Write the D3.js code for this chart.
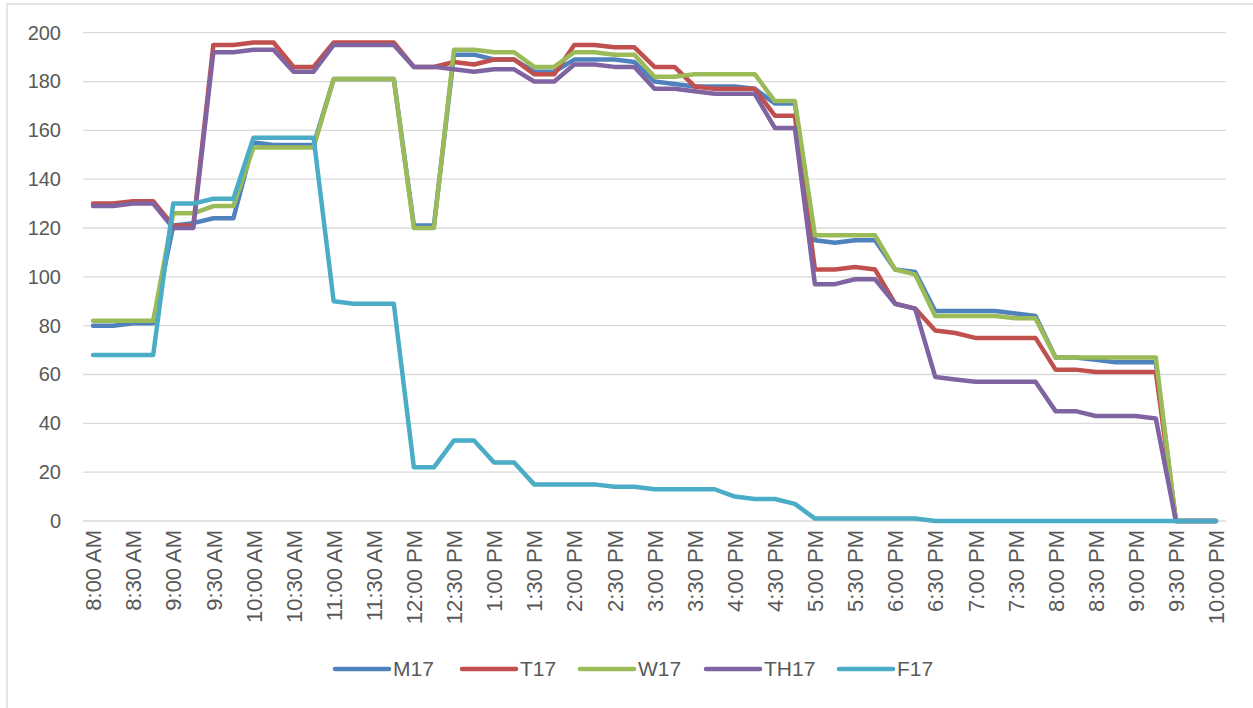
<!DOCTYPE html>
<html>
<head>
<meta charset="utf-8">
<script src="https://cdn.jsdelivr.net/npm/d3@7"></script>
<style>
  html, body { margin: 0; padding: 0; background: #fff; }
  svg { display: block; }
  text { font-family: "Liberation Sans", Arial, sans-serif; fill: #595959; }
</style>
</head>
<body>
<svg id="chart" width="1253" height="708"></svg>
<script>
const categories = [
  "8:00 AM","8:15 AM","8:30 AM","8:45 AM","9:00 AM","9:15 AM","9:30 AM","9:45 AM",
  "10:00 AM","10:15 AM","10:30 AM","10:45 AM","11:00 AM","11:15 AM","11:30 AM","11:45 AM",
  "12:00 PM","12:15 PM","12:30 PM","12:45 PM","1:00 PM","1:15 PM","1:30 PM","1:45 PM",
  "2:00 PM","2:15 PM","2:30 PM","2:45 PM","3:00 PM","3:15 PM","3:30 PM","3:45 PM",
  "4:00 PM","4:15 PM","4:30 PM","4:45 PM","5:00 PM","5:15 PM","5:30 PM","5:45 PM",
  "6:00 PM","6:15 PM","6:30 PM","6:45 PM","7:00 PM","7:15 PM","7:30 PM","7:45 PM",
  "8:00 PM","8:15 PM","8:30 PM","8:45 PM","9:00 PM","9:15 PM","9:30 PM","9:45 PM",
  "10:00 PM"
];
const tickLabels = [
  "8:00 AM","8:30 AM","9:00 AM","9:30 AM","10:00 AM","10:30 AM","11:00 AM","11:30 AM",
  "12:00 PM","12:30 PM","1:00 PM","1:30 PM","2:00 PM","2:30 PM","3:00 PM","3:30 PM",
  "4:00 PM","4:30 PM","5:00 PM","5:30 PM","6:00 PM","6:30 PM","7:00 PM","7:30 PM",
  "8:00 PM","8:30 PM","9:00 PM","9:30 PM","10:00 PM"
];
const yTicks = [0, 20, 40, 60, 80, 100, 120, 140, 160, 180, 200];
const seriesNames = ["M17", "T17", "W17", "TH17", "F17"];
const seriesColors = ["#4F81BD", "#C0504D", "#9BBB59", "#8064A2", "#4BACC6"];

const M17 = [80,80,81,81,121,122,124,124,155,154,154,154,181,181,181,181,
  121,121,191,191,189,189,184,184,189,189,189,188,180,179,178,178,
  178,177,171,171,115,114,115,115,103,102,86,86,86,86,85,84,
  67,67,66,65,65,65,0,0,0];
const T17 = [130,130,131,131,121,121,195,195,196,196,186,186,196,196,196,196,
  186,186,188,187,189,189,183,183,195,195,194,194,186,186,178,177,
  177,177,166,166,103,103,104,103,89,87,78,77,75,75,75,75,
  62,62,61,61,61,61,0,0,0];
const W17 = [82,82,82,82,126,126,129,129,153,153,153,153,181,181,181,181,
  120,120,193,193,192,192,186,186,192,192,191,191,182,182,183,183,
  183,183,172,172,117,117,117,117,103,101,84,84,84,84,83,83,
  67,67,67,67,67,67,0,0,0];
const TH17 = [129,129,130,130,120,120,192,192,193,193,184,184,195,195,195,195,
  186,186,185,184,185,185,180,180,187,187,186,186,177,177,176,175,
  175,175,161,161,97,97,99,99,89,87,59,58,57,57,57,57,
  45,45,43,43,43,42,0,0,0];
const F17 = [68,68,68,68,130,130,132,132,157,157,157,157,90,89,89,89,
  22,22,33,33,24,24,15,15,15,15,14,14,13,13,13,13,
  10,9,9,7,1,1,1,1,1,1,0,0,0,0,0,0,
  0,0,0,0,0,0,0,0,0];

const seriesValues = [M17, T17, W17, TH17, F17];

const svg = d3.select("#chart");

// chart border
svg.append("rect")
  .attr("x", 7).attr("y", 4)
  .attr("width", 1270).attr("height", 720)
  .attr("fill", "#fff")
  .attr("stroke", "#d9d9d9").attr("stroke-width", 1.3);

const plot = { left: 83, right: 1226, top: 32.7, bottom: 521 };

const x = d3.scalePoint()
  .domain(categories)
  .range([plot.left, plot.right])
  .padding(0.5);

const y = d3.scaleLinear()
  .domain([0, 200])
  .range([plot.bottom, plot.top]);

// gridlines
svg.append("g")
  .selectAll("line")
  .data(yTicks)
  .join("line")
  .attr("x1", plot.left).attr("x2", plot.right)
  .attr("y1", d => y(d)).attr("y2", d => y(d))
  .attr("stroke", "#d9d9d9").attr("stroke-width", 1.3);

// y axis labels
const yAxis = d3.axisLeft(y).tickValues(yTicks).tickSize(0).tickPadding(0);
const yg = svg.append("g").attr("transform", `translate(61,0)`).call(yAxis);
yg.select(".domain").remove();
yg.selectAll("text")
  .attr("font-size", 20)
  .attr("font-family", "Liberation Sans, Arial, sans-serif")
  .attr("fill", "#595959");

// x axis labels
const xAxis = d3.axisBottom(x)
  .tickValues(tickLabels)
  .tickSize(0)
  .tickPadding(0);
const xg = svg.append("g").attr("transform", `translate(0,${plot.bottom})`).call(xAxis);
xg.select(".domain").remove();
xg.selectAll("text")
  .attr("font-size", 22)
  .attr("font-family", "Liberation Sans, Arial, sans-serif")
  .attr("fill", "#595959")
  .attr("text-anchor", "end")
  .attr("transform", "translate(0,9) rotate(-90)")
  .attr("x", 0)
  .attr("y", 0)
  .attr("dy", "0.35em");

// lines
const line = d3.line()
  .x((d, i) => x(categories[i]))
  .y(d => y(d));

svg.append("g")
  .selectAll("path")
  .data(seriesValues)
  .join("path")
  .attr("d", d => line(d))
  .attr("fill", "none")
  .attr("stroke", (d, i) => seriesColors[i])
  .attr("stroke-width", 4.5)
  .attr("stroke-linejoin", "round")
  .attr("stroke-linecap", "round");

// legend
const legendX = [335, 462, 580, 706, 839];
const legend = svg.append("g")
  .selectAll("g")
  .data(seriesNames)
  .join("g")
  .attr("transform", (d, i) => `translate(${legendX[i]},669)`);
legend.append("line")
  .attr("x1", 0).attr("x2", 54)
  .attr("y1", 0).attr("y2", 0)
  .attr("stroke", (d, i) => seriesColors[i])
  .attr("stroke-width", 4.5)
  .attr("stroke-linecap", "round");
legend.append("text")
  .attr("x", 58).attr("y", 0).attr("dy", "0.35em")
  .attr("font-size", 21)
  .text(d => d);
</script>
</body>
</html>
